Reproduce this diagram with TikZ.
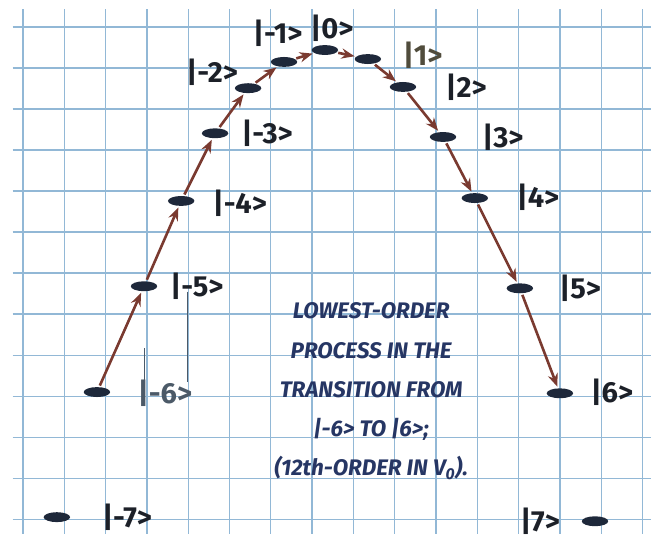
\documentclass[tikz,border=0pt]{standalone}
\usepackage{fontspec}
\setmainfont{Fira Sans}
\usetikzlibrary{arrows.meta,shapes.geometric}

\definecolor{gridblue}{RGB}{146,184,214}
\definecolor{barink}{RGB}{30,40,58}
\definecolor{arrowink}{RGB}{122,58,48}
\definecolor{labelink}{RGB}{28,32,40}
\definecolor{greyink}{RGB}{76,90,104}
\definecolor{oliveink}{RGB}{80,76,60}
\definecolor{noteink}{RGB}{38,54,100}

\tikzset{
  level/.style={ellipse,fill=barink,minimum width=0.64cm,minimum height=0.24cm,inner sep=0pt},
  ket/.style={text=labelink,font=\fontsize{20}{24}\selectfont\bfseries,inner sep=0pt},
  hop/.style={draw=arrowink,line width=1.8pt,-{Stealth[length=9pt,width=7pt]},shorten >=1pt,shorten <=1pt},
  note/.style={text=noteink,align=center,font=\fontsize{15.5}{27}\selectfont\bfseries\itshape}
}

\begin{document}
\begin{tikzpicture}[x=1cm,y=0.993cm]
\useasboundingbox (-0.557,-0.537) rectangle (15.278,12.66);

% Grid
\foreach \x in {0,...,15}{
    \draw[gridblue,line width=0.9pt] (\x,-0.35) -- (\x,12.45);
}
\foreach \y in {0,...,12}{
    \draw[gridblue,line width=0.9pt] (-0.25,\y) -- (15.2,\y);
}

% Pen marks
\draw[greyink,line width=0.5pt] (3.97,5.55) -- (3.97,3.34);
\draw[greyink,line width=0.5pt] (2.95,4.17) -- (2.95,3.02);

% Levels
\foreach \name/\x/\y in {m7/0.82/0.05, m6/1.79/3.10, m5/2.93/5.68, m4/3.83/7.76,
    m3/4.65/9.41, m2/5.45/10.51, m1/6.32/11.15, z0/7.31/11.44, p1/8.35/11.22,
    p2/9.20/10.54, p3/10.17/9.32, p4/10.94/7.83, p5/12.03/5.63, p6/13.00/3.07,
    p7/13.85/-0.05}{
    \node[level] (\name) at (\x,\y) {};
}

% Level labels
\node[ket] (lm7) at (2.52,0.05) {|-7>};
\node[ket,text=greyink] (lm6) at (3.44,3.07) {|-6>};
\node[ket] (lm5) at (4.21,5.68) {|-5>};
\node[ket] (lm4) at (5.25,7.71) {|-4>};
\node[ket] (lm3) at (5.91,9.41) {|-3>};
\node[ket] (lm2) at (4.58,10.90) {|-2>};
\node[ket] (lm1) at (6.17,11.85) {|-1>};
\node[ket] (lz0) at (7.48,11.98) {|0>};
\node[ket,text=oliveink] (lp1) at (9.68,11.32) {|1>};
\node[ket] (lp2) at (10.73,10.54) {|2>};
\node[ket] (lp3) at (11.62,9.32) {|3>};
\node[ket] (lp4) at (12.47,7.85) {|4>};
\node[ket] (lp5) at (13.49,5.63) {|5>};
\node[ket] (lp6) at (14.26,3.10) {|6>};
\node[ket] (lp7) at (12.52,-0.05) {|7>};

% Hops
\foreach \a/\b in {m6/m5, m5/m4, m4/m3, m3/m2, m2/m1, m1/z0,
    z0/p1, p1/p2, p2/p3, p3/p4, p4/p5, p5/p6}{
    \draw[hop] (\a) -- (\b);
}

% Note
\node[note] (note) at (8.43,3.12) {LOWEST-ORDER\\PROCESS IN THE\\TRANSITION FROM\\
    |-6> TO |6>;\\(12th-ORDER IN V\textsubscript{0}).};

\end{tikzpicture}
\end{document}
